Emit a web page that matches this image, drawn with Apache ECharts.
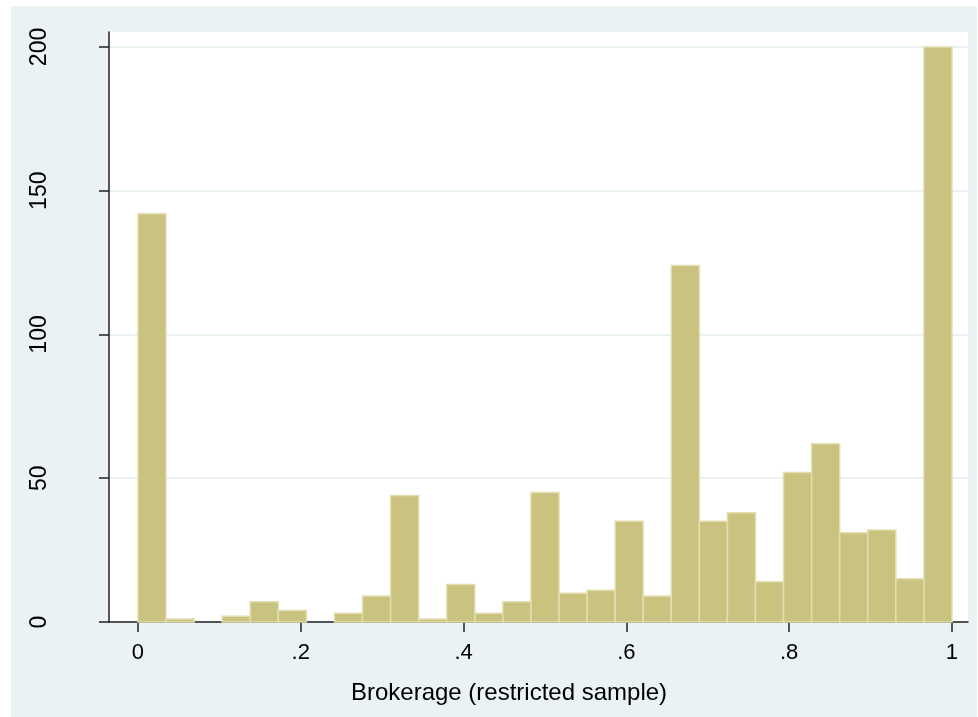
<!DOCTYPE html>
<html>
<head>
<meta charset="utf-8">
<script src="https://cdn.jsdelivr.net/npm/echarts@6/dist/echarts.min.js"></script>
<style>html,body{margin:0;padding:0;background:#fff;}#c{width:978px;height:717px;}</style>
</head>
<body>
<div id="c"></div>
<script>
// Histogram: 29 equal-width bins on [0, 1]
const binStart = 0;
const binCount = 29;
const binWidth = 1 / binCount;
const counts = [142, 1, 0, 2, 7, 4, 0, 3, 9, 44, 1, 13, 3, 7, 45, 10, 11, 35, 9, 124, 35, 38, 14, 52, 62, 31, 32, 15, 200];
const xTicks = [0, 0.2, 0.4, 0.6, 0.8, 1];
const xTickLabels = ['0', '.2', '.4', '.6', '.8', '1'];
const yTicks = [0, 50, 100, 150, 200];
const xTitle = 'Brokerage (restricted sample)';

const data = counts.map((c, i) => [binStart + i * binWidth, binStart + (i + 1) * binWidth, c]);

const chart = echarts.init(document.getElementById('c'), null, {renderer: 'canvas'});
const font = 'Liberation Sans, Arial, Helvetica, sans-serif';
chart.setOption({
  backgroundColor: '#ffffff',
  animation: false,
  graphic: [
    {type: 'rect', z: -10, silent: true, shape: {x: 11, y: 6, width: 966, height: 711}, style: {fill: '#EAF2F3'}},
    {type: 'text', z: 10, silent: true, x: 509, y: 693, style: {text: xTitle, fill: '#000', font: '24px ' + font, textAlign: 'center', textVerticalAlign: 'middle'}}
  ],
  grid: {left: 109, right: 10, top: 32, bottom: 95, show: true, backgroundColor: '#ffffff', borderWidth: 0, containLabel: false},
  xAxis: {
    type: 'value', min: -0.0356, max: 1.0197,
    axisLine: {show: true, onZero: false, lineStyle: {color: '#222', width: 1.5}},
    axisTick: {show: true, length: 10, lineStyle: {color: '#222', width: 1.5}, customValues: xTicks},
    axisLabel: {customValues: xTicks, margin: 20, fontSize: 22, fontFamily: font, color: '#000',
      formatter: v => { const i = xTicks.findIndex(t => Math.abs(t - v) < 1e-9); return i >= 0 ? xTickLabels[i] : ''; }},
    splitLine: {show: false}
  },
  yAxis: {
    type: 'value', min: 0, max: 205.2,
    axisLine: {show: true, onZero: false, lineStyle: {color: '#222', width: 1.5}},
    axisTick: {show: true, length: 10, lineStyle: {color: '#222', width: 1.5}, customValues: yTicks},
    axisLabel: {customValues: yTicks, rotate: 90, margin: 58, fontSize: 23, fontFamily: font, color: '#000'},
    splitLine: {show: true, lineStyle: {color: '#EAF2F3', width: 2}}
  },
  series: [{
    type: 'custom',
    data: data,
    encode: {x: [0, 1], y: 2},
    renderItem: function (params, api) {
      const v = api.value(2);
      if (!v) return null;
      const p0 = api.coord([api.value(0), v]);
      const p1 = api.coord([api.value(1), 0]);
      return {
        type: 'rect',
        shape: {x: p0[0], y: p0[1], width: p1[0] - p0[0], height: p1[1] - p0[1]},
        style: {fill: '#CAC27F', stroke: '#E3DEB0', lineWidth: 1.5}
      };
    }
  }]
});
</script>
</body>
</html>
